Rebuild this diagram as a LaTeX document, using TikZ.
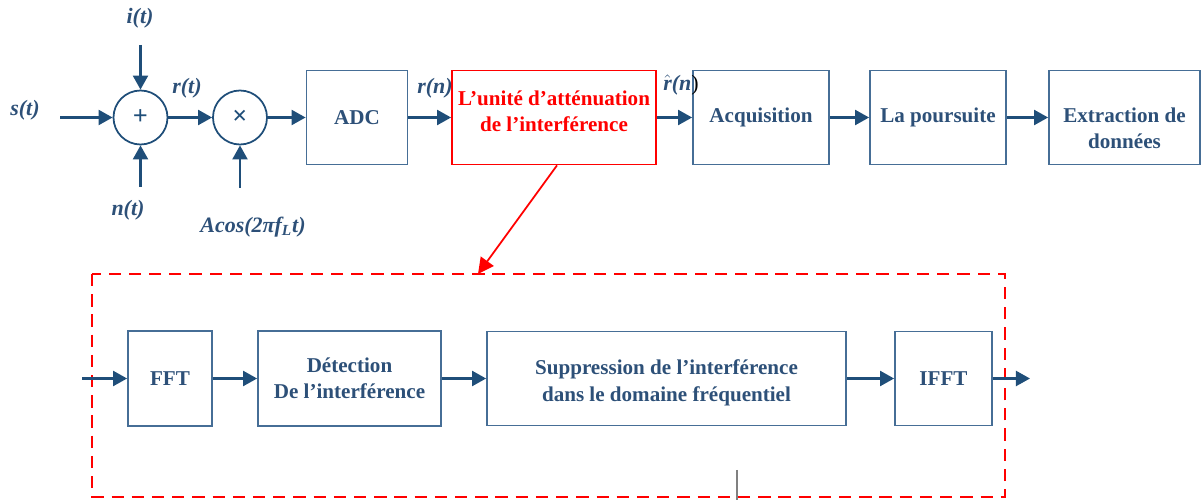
\documentclass[tikz,border=0pt]{standalone}
\usepackage{fontspec}
\setmainfont{Liberation Serif}
\usepackage{xcolor}
\usepackage{tikz}
\usetikzlibrary{arrows.meta,positioning,calc}

\definecolor{sigblue}{RGB}{31,78,121}
\definecolor{boxblue}{RGB}{70,110,150}
\definecolor{txtblue}{RGB}{45,80,120}

\begin{document}
\begin{tikzpicture}[
    block/.style={draw=boxblue, line width=1pt, minimum height=1.88cm, align=center,
        font=\fontsize{12}{15}\selectfont\bfseries, text=txtblue, inner sep=2pt},
    redblock/.style={block, draw=red, text=red},
    op/.style={circle, draw=sigblue, line width=1pt, minimum size=1.08cm, inner sep=0pt,
        font=\fontsize{15}{15}\selectfont\bfseries, text=sigblue},
    sig/.style={font=\fontsize{12.5}{14}\selectfont\bfseries\itshape, text=txtblue},
    flow/.style={-{Triangle[length=8pt,width=8.5pt]}, line width=1.4pt, sigblue},
    zoomarrow/.style={-{Triangle[length=9pt,width=9pt]}, line width=1pt, red}
]
\useasboundingbox (0,0) rectangle (24.02,-10);
% Receiver chain
\node[op] (sum) at (2.81,-2.35) {+};
\node[op] (mix) at (4.80,-2.35) {×};
\node[block, minimum width=2.02cm] (adc) at (7.14,-2.35) {ADC};
\node[redblock, minimum width=4.08cm, text depth=0.25cm] (iau) at (11.08,-2.35)
    {L'unité d'atténuation\\de l'interférence};
\node[block, minimum width=2.72cm] (acq) at (15.22,-2.35) {Acquisition};
\node[block, minimum width=2.72cm] (track) at (18.76,-2.35) {La poursuite};
\node[block, minimum width=3.02cm, text height=1.25cm, text depth=0cm] (extract) at (22.49,-2.35)
    {Extraction de\\données};
% Inputs
\coordinate (sin) at (1.2,-2.35);
\coordinate (iin) at (2.81,-0.9);
\coordinate (nin) at (2.81,-3.74);
\coordinate (loin) at (4.80,-3.76);
\node[sig] (slab) at (0.5,-2.2) {s(t)};
\node[sig] (ilab) at (2.8,-0.36) {i(t)};
\node[sig] (nlab) at (2.56,-4.2) {n(t)};
\node[sig] (rtlab) at (3.74,-1.76) {r(t)};
\node[sig] (lolab) at (5.06,-4.54) {Acos(2πf\textsubscript{L}t)};
\node[sig] (rnlab) at (8.7,-1.76) {r(n)};
\node[sig] (rhlab) at (13.62,-1.7) {$\hat{\mbox{r}}$(n{\color{black}\mdseries\upshape)}};
% Connectors
\draw[flow] (sin) -- (sum);
\draw[flow] (iin) -- (sum);
\draw[flow] (nin) -- (sum);
\draw[flow] (sum) -- (mix);
\draw[flow] (loin) -- (mix);
\draw[flow] (mix) -- (adc);
\draw[flow] (adc) -- (iau);
\draw[flow] (iau) -- (acq);
\draw[flow] (acq) -- (track);
\draw[flow] (track) -- (extract);
% Detail of the mitigation unit
\draw[red, line width=1.3pt, dash pattern=on 7pt off 4.5pt] (1.84,-5.48) rectangle (20.1,-9.94);
\coordinate (zoomend) at (9.56,-5.48);
\draw[zoomarrow] ($(iau.south)+(0.06,0)$) -- (zoomend);
\node[block, minimum width=1.68cm, minimum height=1.9cm] (fft) at (3.4,-7.57) {FFT};
\node[block, minimum width=3.66cm, minimum height=1.9cm] (detect) at (6.99,-7.57)
    {Détection\\De l'interférence};
\node[block, minimum width=7.18cm, text height=0.95cm, text depth=0.05cm] (supp) at (13.33,-7.57)
    {Suppression de l'interférence\\dans le domaine fréquentiel};
\node[block, minimum width=1.94cm] (ifft) at (18.87,-7.57) {IFFT};
\coordinate (fin) at (1.64,-7.57);
\coordinate (fout) at (20.6,-7.57);
\draw[flow] (fin) -- (fft);
\draw[flow] (fft) -- (detect);
\draw[flow] (detect) -- (supp);
\draw[flow] (supp) -- (ifft);
\draw[flow] (ifft) -- (fout);
\draw[gray, line width=0.6pt] (14.74,-9.4) -- (14.74,-10);
\end{tikzpicture}
\end{document}
